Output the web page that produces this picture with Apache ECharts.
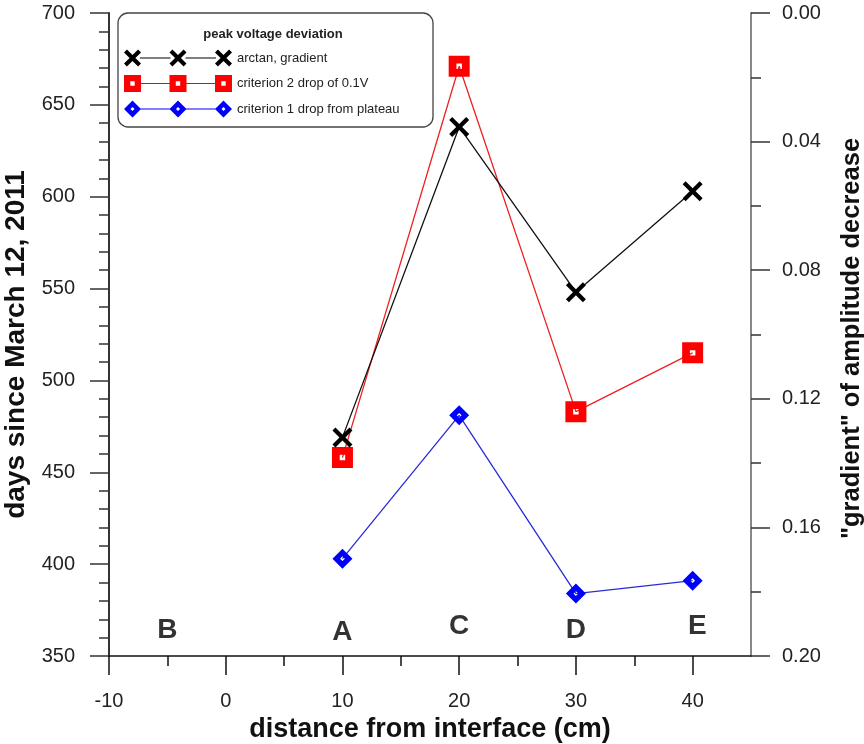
<!DOCTYPE html>
<html>
<head>
<meta charset="utf-8">
<script src="https://cdn.jsdelivr.net/npm/echarts@6/dist/echarts.min.js"></script>
<style>html,body{margin:0;padding:0;background:#fff;}#c{width:864px;height:744px;}</style>
</head>
<body>
<div id="c"></div>
<script>
// ---- data ----
const distance = [10, 20, 30, 40];
const arctanGradient = [469, 638, 548, 603];
const criterion2 = [458, 671, 483, 515];
const criterion1 = [403, 481, 384, 391];
const siteLetters = ['B', 'A', 'C', 'D', 'E'];
const siteX = [-5, 10, 20, 30, 40.4];
const siteY = [364, 363, 366, 364, 366];
const xMajorTicks = [-10, 0, 10, 20, 30, 40];
const xMinorTicks = [-5, 5, 15, 25, 35];
const seriesNames = ['arctan, gradient', 'criterion 2 drop of 0.1V', 'criterion 1 drop from plateau'];

// ---- symbol shapes ----
function xShape(cx, cy, h, d) {
  const p = [[cx-h,cy-h+d],[cx-h+d,cy-h],[cx,cy-d],[cx+h-d,cy-h],[cx+h,cy-h+d],[cx+d,cy],
             [cx+h,cy+h-d],[cx+h-d,cy+h],[cx,cy+d],[cx-h+d,cy+h],[cx-h,cy+h-d],[cx-d,cy]];
  return 'M' + p.map(q => q[0].toFixed(2) + ',' + q[1].toFixed(2)).join('L') + 'Z';
}
function sqShape(cx, cy, h, hi) {
  return `M${cx-h},${cy-h}L${cx+h},${cy-h}L${cx+h},${cy+h}L${cx-h},${cy+h}Z` +
         `M${cx-hi},${cy-hi}L${cx-hi},${cy+hi}L${cx+hi},${cy+hi}L${cx+hi},${cy-hi}Z`;
}
function dmShape(cx, cy, h, hi) {
  return `M${cx},${cy-h}L${cx+h},${cy}L${cx},${cy+h}L${cx-h},${cy}Z` +
         `M${cx},${cy-hi}L${cx-hi},${cy}L${cx},${cy+hi}L${cx+hi},${cy}Z`;
}
const X_SYM = 'path://' + xShape(5, 5, 5, 1.5);
const SQ_SYM = 'path://' + sqShape(5, 5, 5, 1.3);
const DM_SYM = 'path://' + dmShape(5, 5, 5, 1.2);

// legend icons (three markers joined by a line)
const LW = 108, LH = 17, lh = 8.5;
const lc = [8.5, 54, 99.5];
function seg(t) {
  let s = '';
  for (let i = 0; i < 2; i++) {
    const a = lc[i] + lh - 1, b = lc[i + 1] - lh + 1;
    s += `M${a},${lh - t}L${b},${lh - t}L${b},${lh + t}L${a},${lh + t}Z`;
  }
  return s;
}
const legX = 'path://' + lc.map(c => xShape(c, lh, lh, 2.9)).join('') + seg(0.55);
const legSq = 'path://' + lc.map(c => sqShape(c, lh, lh, 2.2)).join('') + seg(0.55);
const legDm = 'path://' + lc.map(c => dmShape(c, lh, lh, 2.0)).join('') + seg(0.55);

const FONT = 'Liberation Sans, Arial, sans-serif';
const BOLDFONT = 'Liberation Sans, Arial, sans-serif';
const G = {left: 109, right: 113, top: 13, bottom: 88};

const chart = echarts.init(document.getElementById('c'), null, {renderer: 'canvas'});
chart.setOption({
  animation: false,
  backgroundColor: '#fff',
  grid: [
    Object.assign({containLabel: false, outerBoundsMode: 'none'}, G),
    Object.assign({containLabel: false, outerBoundsMode: 'none'}, G)
  ],
  graphic: [
    {type: 'rect', shape: {x: 118, y: 13, width: 315, height: 114, r: 10},
     style: {fill: '#fff', stroke: '#444', lineWidth: 1.3}, z: 1},
    {type: 'text', x: 273, y: 34, z: 2,
     style: {text: 'peak voltage deviation', font: 'bold 13px ' + FONT, fill: '#222',
             align: 'center', verticalAlign: 'middle'}}
  ],
  legend: {
    orient: 'vertical', left: 119, top: 44.5, itemGap: 8.5,
    itemWidth: LW, itemHeight: LH, z: 5,
    textStyle: {fontFamily: FONT, fontSize: 13, color: '#222'},
    itemStyle: {borderWidth: 0},
    data: [
      {name: seriesNames[0], icon: legX},
      {name: seriesNames[1], icon: legSq},
      {name: seriesNames[2], icon: legDm}
    ]
  },
  xAxis: [
    {type: 'value', gridIndex: 0, min: -10, max: 45, position: 'bottom',
     name: 'distance from interface (cm)', nameLocation: 'middle', nameGap: 52,
     nameTextStyle: {fontFamily: BOLDFONT, fontWeight: 'bold', fontSize: 27, color: '#111'},
     axisLine: {onZero: false, lineStyle: {color: '#111', width: 1.5}},
     axisTick: {show: true, length: 19, customValues: xMajorTicks, lineStyle: {color: '#111', width: 1.5}},
     axisLabel: {customValues: xMajorTicks, margin: 35, fontFamily: FONT, fontSize: 20, color: '#222'},
     splitLine: {show: false}},
    {type: 'value', gridIndex: 1, min: -10, max: 45, position: 'bottom',
     axisLine: {show: false, onZero: false},
     axisTick: {show: true, length: 10, customValues: xMinorTicks, lineStyle: {color: '#111', width: 1.5}},
     axisLabel: {show: false}, splitLine: {show: false}}
  ],
  yAxis: [
    {type: 'value', gridIndex: 0, min: 350, max: 700, interval: 50, position: 'left',
     name: 'days since March 12, 2011', nameLocation: 'middle', nameGap: 57, nameRotate: 90,
     nameTextStyle: {fontFamily: BOLDFONT, fontWeight: 'bold', fontSize: 28, color: '#111',
                     padding: [0, 20, 0, 0]},
     axisLine: {show: true, onZero: false, lineStyle: {color: '#333', width: 2}},
     axisTick: {show: true, length: 19, lineStyle: {color: '#333', width: 1.5}},
     minorTick: {show: true, splitNumber: 5, length: 10, lineStyle: {color: '#333', width: 1.5}},
     axisLabel: {margin: 34, fontFamily: FONT, fontSize: 20, color: '#222'},
     splitLine: {show: false}},
    {type: 'value', gridIndex: 0, min: 0, max: 0.2, interval: 0.04, inverse: true, position: 'right',
     name: '"gradient" of amplitude decrease', nameLocation: 'middle', nameGap: 88, nameRotate: 90,
     nameTextStyle: {fontFamily: BOLDFONT, fontWeight: 'bold', fontSize: 25.5, color: '#111',
                     padding: [0, 8, 0, 0]},
     axisLine: {show: true, onZero: false, lineStyle: {color: '#888', width: 2}},
     axisTick: {show: true, length: 19, lineStyle: {color: '#333', width: 1.5}},
     minorTick: {show: true, splitNumber: 2, length: 10, lineStyle: {color: '#333', width: 1.5}},
     axisLabel: {margin: 31, fontFamily: FONT, fontSize: 20, color: '#222',
                 formatter: v => v.toFixed(2)},
     splitLine: {show: false}},
    {type: 'value', gridIndex: 1, min: 0, max: 1, show: false}
  ],
  series: [
    {name: seriesNames[2], type: 'line', xAxisIndex: 0, yAxisIndex: 0,
     data: distance.map((x, i) => [x, criterion1[i]]),
     symbol: DM_SYM, symbolSize: 20, symbolKeepAspect: true,
     lineStyle: {color: '#2b2bd8', width: 1.3},
     itemStyle: {color: '#0000ff', borderWidth: 0}, z: 3},
    {name: seriesNames[1], type: 'line', xAxisIndex: 0, yAxisIndex: 0,
     data: distance.map((x, i) => [x, criterion2[i]]),
     symbol: SQ_SYM, symbolSize: 21, symbolKeepAspect: true,
     lineStyle: {color: '#ee2020', width: 1.3},
     itemStyle: {color: '#ff0000', borderWidth: 0}, z: 3},
    {name: seriesNames[0], type: 'line', xAxisIndex: 0, yAxisIndex: 0,
     data: distance.map((x, i) => [x, arctanGradient[i]]),
     symbol: X_SYM, symbolSize: 20, symbolKeepAspect: true,
     lineStyle: {color: '#111', width: 1.3},
     itemStyle: {color: '#000', borderWidth: 0}, z: 4},
    {name: 'sites', type: 'scatter', xAxisIndex: 0, yAxisIndex: 0,
     data: siteLetters.map((l, i) => ({name: l, value: [siteX[i], siteY[i]]})),
     symbolSize: 1, itemStyle: {color: 'rgba(0,0,0,0)'},
     label: {show: true, position: 'inside', formatter: p => p.name,
             fontFamily: FONT, fontWeight: 'bold', fontSize: 28, color: '#000'},
     z: 2}
  ]
});
</script>
</body>
</html>
